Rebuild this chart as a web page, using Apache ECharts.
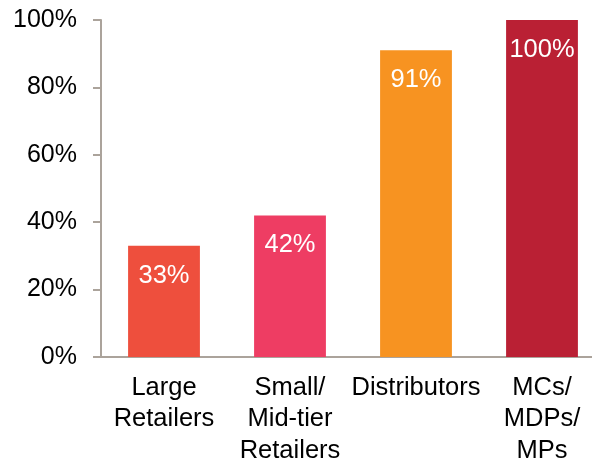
<!DOCTYPE html>
<html>
<head>
<meta charset="utf-8">
<script src="https://cdn.jsdelivr.net/npm/echarts@6/dist/echarts.min.js"></script>
<style>
  html, body { margin: 0; padding: 0; background: #ffffff; }
  #chart { width: 592px; height: 461px; }
</style>
</head>
<body>
<div id="chart"></div>
<script>
// Share of each channel (percent)
const categories = ['Large\nRetailers', 'Small/\nMid-tier\nRetailers', 'Distributors', 'MCs/\nMDPs/\nMPs'];
const values = [33, 42, 91, 100];
const barColors = ['#EE4F3D', '#EE3D63', '#F79321', '#BA2034'];
const yTicks = [0, 20, 40, 60, 80, 100];

const axisColor = '#ABA39B';
const fontFamily = '"Liberation Sans", Arial, sans-serif';

const chart = echarts.init(document.getElementById('chart'), null, { renderer: 'canvas' });
chart.setOption({
  animation: false,
  grid: {
    left: 101, top: 20, width: 504, height: 337,
    containLabel: false, outerBoundsMode: 'none'
  },
  xAxis: {
    type: 'category',
    data: categories,
    axisLine: { show: true, lineStyle: { color: axisColor, width: 2 } },
    axisTick: { show: false },
    axisLabel: {
      color: '#000000', fontSize: 25.5, fontFamily: fontFamily,
      lineHeight: 31.5, margin: 15, interval: 0
    }
  },
  yAxis: {
    type: 'value',
    min: yTicks[0],
    max: yTicks[yTicks.length - 1],
    interval: 20,
    splitLine: { show: false },
    axisLine: { show: true, lineStyle: { color: axisColor, width: 2 } },
    axisTick: { show: true, length: 8, lineStyle: { color: axisColor, width: 2 } },
    axisLabel: {
      color: '#000000', fontSize: 25, fontFamily: fontFamily, margin: 24,
      formatter: v => v + '%'
    }
  },
  series: [{
    type: 'bar',
    data: values.map((v, i) => ({ value: v, itemStyle: { color: barColors[i] } })),
    barWidth: '57%',
    label: {
      show: true,
      position: 'insideTop',
      distance: 17,
      color: '#ffffff',
      fontSize: 25.5,
      fontFamily: fontFamily,
      formatter: p => p.value + '%'
    }
  }]
});
</script>
</body>
</html>
